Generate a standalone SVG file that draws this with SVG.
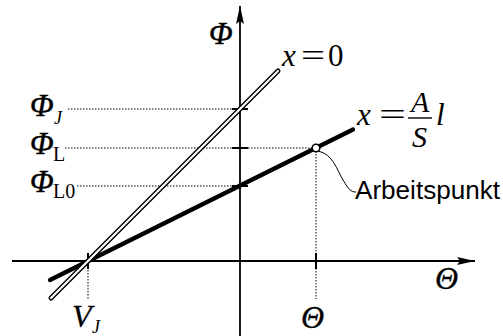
<svg xmlns="http://www.w3.org/2000/svg" width="503" height="336" viewBox="0 0 503 336">
<style>
.ax{stroke:#000;stroke-width:1.8;fill:none}
.tk{stroke:#000;stroke-width:2;fill:none}
.dot{stroke:#000;stroke-width:1;stroke-dasharray:1.5 1.5;fill:none}
.m{font-family:"Liberation Serif","Times New Roman",serif;font-style:italic;fill:#000}
.u{font-family:"Liberation Serif","Times New Roman",serif;font-style:normal;fill:#000}
.g{font-family:"Liberation Serif","Times New Roman",serif;font-style:italic;font-size:31px;stroke:#000;stroke-width:0.5;fill:#000}
.t{font-family:"Liberation Serif","Times New Roman",serif;font-style:italic;font-size:32px;stroke:#000;stroke-width:0.3;fill:#000}
.s{font-family:"Liberation Sans",Arial,sans-serif;fill:#000}
</style>
<defs>
<marker id="arr" viewBox="0 0 18 8" refX="18" refY="4" markerWidth="18" markerHeight="8" markerUnits="userSpaceOnUse" orient="auto">
<path d="M0,0 L18,4 L0,8 L3,4 Z" fill="#000"/>
</marker>
</defs>
<g id="connectors">
<line class="ax" x1="240" y1="336" x2="240" y2="6" marker-end="url(#arr)"/>
<line class="ax" x1="12" y1="261" x2="475" y2="261" marker-end="url(#arr)"/>
<line class="tk" x1="232" y1="109" x2="248" y2="109"/>
<line class="tk" x1="232" y1="148" x2="248" y2="148"/>
<line class="tk" x1="232" y1="186" x2="248" y2="186"/>
<line class="tk" x1="316" y1="253" x2="316" y2="269"/>
<line class="tk" x1="88" y1="253" x2="88" y2="269"/>
<line class="dot" x1="68" y1="109" x2="240" y2="109"/>
<line class="dot" x1="65" y1="148" x2="316" y2="148"/>
<line class="dot" x1="77" y1="186" x2="240" y2="186"/>
<line class="dot" x1="88" y1="261" x2="88" y2="299"/>
<line class="dot" x1="316" y1="148" x2="316" y2="299"/>
<line id="kennlinie" x1="50" y1="280" x2="353" y2="129.5" stroke="#000" stroke-width="4.2" stroke-linecap="round"/>
<g id="x0line">
<line x1="51" y1="298" x2="278" y2="71" stroke="#000" stroke-width="5" stroke-linecap="round"/>
<line x1="51" y1="298" x2="278" y2="71" stroke="#fff" stroke-width="2.2" stroke-linecap="round"/>
</g>
<path d="M318,151 C333,154 337,170 343,180 S351,192 356,192" stroke="#000" stroke-width="1" fill="none"/>
</g>
<g id="arbeitspunkt">
<circle cx="316" cy="148" r="3.8" fill="#fff" stroke="#000" stroke-width="1.6"/>
<text class="s" x="355" y="199" font-size="25" textLength="145" lengthAdjust="spacingAndGlyphs">Arbeitspunkt</text>
</g>
<g id="labels">
<text class="g" x="209" y="44">Φ</text>
<text class="g" x="30" y="116">Φ</text>
<text class="m" x="54" y="124" font-size="18">J</text>
<text class="g" x="30" y="154">Φ</text>
<text class="u" x="53" y="161" font-size="20">L</text>
<text class="g" x="30" y="192">Φ</text>
<text class="u" x="53" y="198" font-size="20">L0</text>
<text class="t" x="72" y="327">V</text>
<text class="m" x="92" y="333" font-size="18">J</text>
<text class="t" x="301" y="328">Θ</text>
<text class="t" x="435" y="289">Θ</text>
</g>
<g id="eq0">
<text class="m" x="282" y="66" font-size="31">x</text>
<text class="u" x="301" y="66" font-size="31" textLength="24" lengthAdjust="spacingAndGlyphs">=</text>
<text class="u" x="328" y="66" font-size="31">0</text>
</g>
<g id="eq1">
<text class="m" x="357" y="125" font-size="31">x</text>
<text class="u" x="379" y="125" font-size="31" textLength="27" lengthAdjust="spacingAndGlyphs">=</text>
<text class="m" x="411" y="112" font-size="30">A</text>
<line x1="408" y1="118" x2="432" y2="118" stroke="#000" stroke-width="1.4"/>
<text class="m" x="412" y="147" font-size="30">S</text>
<text class="m" x="436" y="125" font-size="31">l</text>
</g>
</svg>
